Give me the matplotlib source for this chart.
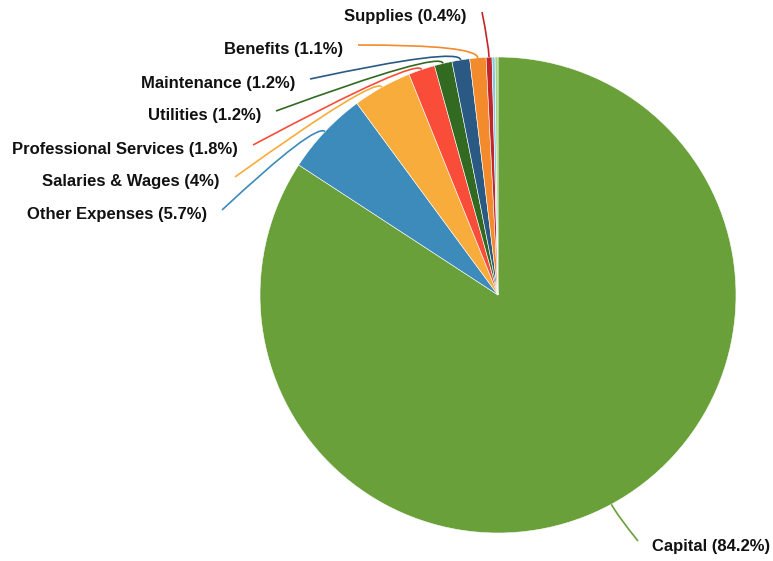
import numpy as np
import matplotlib.pyplot as plt
from matplotlib.path import Path
from matplotlib.patches import PathPatch

plt.rcParams['font.family'] = ['Liberation Sans', 'DejaVu Sans']

# expense shares, in clockwise order from 12 o'clock
categories = ['Capital', 'Other Expenses', 'Salaries & Wages', 'Professional Services',
              'Utilities', 'Maintenance', 'Benefits', 'Supplies', '', '']
shares = [84.2, 5.7, 4, 1.8, 1.2, 1.2, 1.1, 0.4, 0.2, 0.2]
colors = ['#69a03a', '#3c8bbb', '#f8ac3b', '#f94d3a', '#336a21',
          '#2a5a84', '#f38a2c', '#c2252a', '#7ec8e8', '#a8d47c']

# where each leader line ends (pixels from top-left)
label_ends = [(638, 541), (222, 210), (235, 177), (253, 145),
              (276, 111), (310, 79), (358, 45), (482, 12), None, None]

W, H = 773, 561
cx, cy, R = 498, H - 295, 238

fig = plt.figure(figsize=(W / 100, H / 100), dpi=100)
ax = fig.add_axes([0, 0, 1, 1])

wedges, _ = ax.pie(shares, colors=colors, startangle=90, counterclock=False,
                   center=(cx, cy), radius=R,
                   wedgeprops=dict(edgecolor='white', linewidth=0.4))

for w, name, val, end, col in zip(wedges, categories, shares, label_ends, colors):
    if end is None:
        continue
    mid = np.deg2rad((w.theta1 + w.theta2) / 2)
    p = (cx + R * np.cos(mid), cy + R * np.sin(mid))
    e = (cx + (R + 13) * np.cos(mid), cy + (R + 13) * np.sin(mid))
    lx, ly = end[0], H - end[1]
    path = Path([p, e, (lx, ly)], [Path.MOVETO, Path.CURVE3, Path.CURVE3])
    ax.add_patch(PathPatch(path, fc='none', ec=col, lw=1.2))
    text = f'{name} ({val:g}%)'
    if lx > cx + 50:
        ax.text(lx + 14, ly - 5, text, ha='left', va='center',
                fontsize=12, fontweight='bold', color='#111111')
    else:
        ax.text(lx - 15, ly - 4, text, ha='right', va='center',
                fontsize=12, fontweight='bold', color='#111111')

ax.set_xlim(0, W)
ax.set_ylim(0, H)
ax.set_aspect('equal')
ax.axis('off')

fig.savefig('out.png', dpi=100, facecolor='white')
